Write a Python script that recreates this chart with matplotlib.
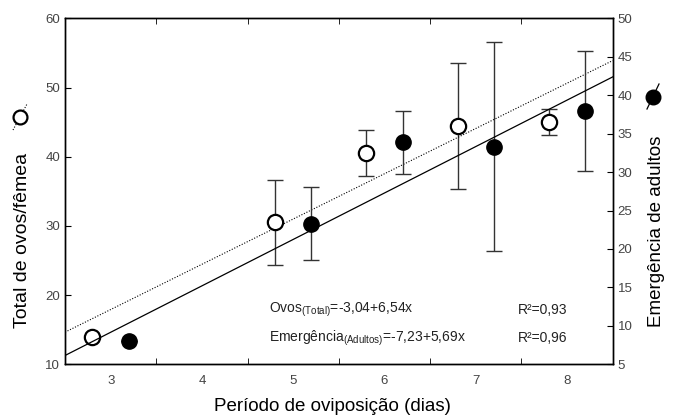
import numpy as np
import matplotlib
matplotlib.use('Agg')
import matplotlib.pyplot as plt
from matplotlib.lines import Line2D

plt.rcParams['font.family'] = ['Liberation Sans', 'DejaVu Sans']
plt.rcParams['mathtext.fontset'] = 'custom'
plt.rcParams['mathtext.rm'] = 'Liberation Sans'

# total eggs per female (open circles, left axis)
ovos_x = [2.8, 4.8, 5.8, 6.8, 7.8]
ovos_y = [14.0, 30.6, 40.5, 44.5, 45.0]
ovos_lo = [14.0, 24.4, 37.2, 35.3, 43.1]
ovos_hi = [14.0, 36.7, 43.8, 53.6, 46.9]

# adult emergence (filled circles, right axis)
emerg_x = [3.2, 5.2, 6.2, 7.2, 8.2]
emerg_y = [8.0, 23.2, 33.9, 33.3, 38.0]
emerg_lo = [8.0, 18.5, 29.7, 19.7, 30.1]
emerg_hi = [8.0, 28.0, 38.0, 46.9, 45.8]

xlim = (2.5, 8.5)
x_labels = [3, 4, 5, 6, 7, 8]

fig = plt.figure(figsize=(6.75, 4.16), dpi=100)
ax = fig.add_axes([0.0963, 0.1243, 0.8114, 0.8317])
ax2 = ax.twinx()

err_kw = dict(ecolor='#333333', elinewidth=1.0, capsize=6, capthick=1.0)

# error bars + points, eggs
oy = np.array(ovos_y)
ax.errorbar(ovos_x, oy, yerr=[oy - np.array(ovos_lo), np.array(ovos_hi) - oy],
            fmt='none', zorder=2, **err_kw)
ax.plot(ovos_x, oy, 'o', ms=11, mfc='white', mec='black', mew=1.6, zorder=4)

# error bars + points, emergence
ey = np.array(emerg_y)
ax2.errorbar(emerg_x, ey, yerr=[ey - np.array(emerg_lo), np.array(emerg_hi) - ey],
             fmt='none', zorder=2, **err_kw)
ax2.plot(emerg_x, ey, 'o', ms=11, mfc='black', mec='black', zorder=4)

# regression lines
xx = np.linspace(xlim[0], xlim[1], 50)
b1, a1 = np.polyfit(ovos_x, ovos_y, 1)
ax.plot(xx, a1 + b1 * xx, color='black', lw=0.8, ls=(0, (1, 1.5)), zorder=3)
b2, a2 = np.polyfit(emerg_x, emerg_y, 1)
ax2.plot(xx, a2 + b2 * xx, color='black', lw=0.9, zorder=3)

ax.set_xlim(*xlim)
ax.set_ylim(10, 60)
ax2.set_ylim(5, 50)

ax.set_xticks(x_labels)
ax.set_xticks(np.arange(3.5, 8.0, 1.0), minor=True)
ax.tick_params(axis='x', which='major', length=0, pad=8, labelsize=9.5, labelcolor='#444444')
ax.tick_params(axis='x', which='minor', direction='in', length=4, top=True, bottom=True)
ax.set_yticks(np.arange(10, 61, 10))
ax.tick_params(axis='y', direction='in', length=4, labelsize=9.5, labelcolor='#444444')
ax2.set_yticks(np.arange(5, 51, 5))
ax2.tick_params(axis='y', direction='in', length=4, labelsize=9.5, labelcolor='#444444')

for a in (ax, ax2):
    for s in a.spines.values():
        s.set_linewidth(1.0)

# axis titles
fig.text(0.493, 0.024, 'Período de oviposição (dias)', ha='center', va='center', fontsize=13.5)
fig.text(0.033, 0.421, 'Total de ovos/fêmea', ha='center', va='center', rotation=90, fontsize=14)
fig.text(0.973, 0.445, 'Emergência de adultos', ha='center', va='center', rotation=90, fontsize=13.5)

# legend symbols beside the axis titles
fig.add_artist(Line2D([13 / 675, 27 / 675], [1 - 130 / 416, 1 - 104 / 416],
                      transform=fig.transFigure, color='black', lw=0.8, ls=(0, (1, 1.5))))
fig.add_artist(Line2D([20 / 675], [1 - 117 / 416], transform=fig.transFigure,
                      marker='o', ms=10, mfc='white', mec='black', mew=1.6))
fig.add_artist(Line2D([647 / 675, 659 / 675], [1 - 109 / 416, 1 - 84 / 416],
                      transform=fig.transFigure, color='black', lw=0.9))
fig.add_artist(Line2D([653 / 675], [1 - 97 / 416], transform=fig.transFigure,
                      marker='o', ms=10.5, mfc='black', mec='black'))

# equations
ax.text(0.372, 0.156, r'Ovos$_{\mathregular{(Total)}}$=-3,04+6,54x', transform=ax.transAxes,
        fontsize=10, va='center', color='#222222')
ax.text(0.372, 0.076, r'Emergência$_{\mathregular{(Adultos)}}$=-7,23+5,69x', transform=ax.transAxes,
        fontsize=10, va='center', color='#222222')
ax.text(0.827, 0.156, 'R²=0,93', transform=ax.transAxes, fontsize=10, va='center', color='#222222')
ax.text(0.827, 0.076, 'R²=0,96', transform=ax.transAxes, fontsize=10, va='center', color='#222222')

fig.savefig('out.png', dpi=100)
